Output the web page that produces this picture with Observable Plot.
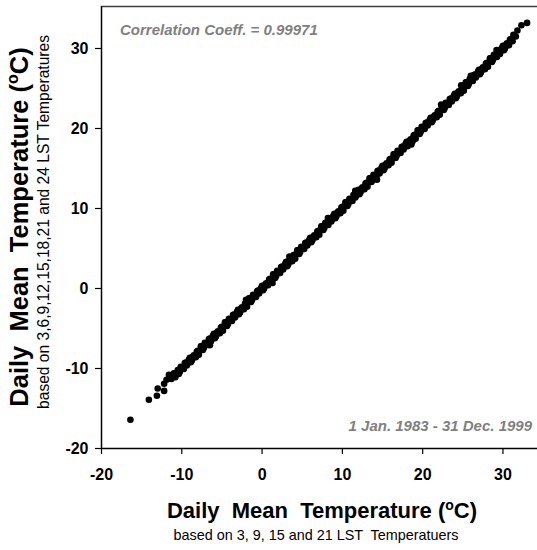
<!DOCTYPE html>
<html><head><meta charset="utf-8">
<script src="https://cdn.jsdelivr.net/npm/d3@7"></script>
<script src="https://cdn.jsdelivr.net/npm/@observablehq/plot@0.6"></script>
<style>
body{margin:0;background:#fff;}
#chart{width:537px;height:550px;}
</style>
</head><body><div id="chart"></div>
<script>
// Daily mean based on 3, 9, 15, 21 LST (x)
const mean4 = [
-16.4,-14.1,-13.1,-13.0,-12.2,-12.2,-11.6,-11.9,-11.3,-11.0,-10.8,
-10.5,-10.25,-10.0,-9.75,-9.5,-9.25,-9.0,-8.75,-8.5,-8.25,-8.0,-7.75,
-7.5,-7.25,-7.0,-6.75,-6.5,-6.25,-6.0,-5.75,-5.5,-5.25,-5.0,-4.75,
-4.5,-4.25,-4.0,-3.75,-3.5,-3.25,-3.0,-2.75,-2.5,-2.25,-2.0,-1.75,
-1.5,-1.25,-1.0,-0.75,-0.5,-0.25,0.0,0.25,0.5,0.75,1.0,1.25,
1.5,1.75,2.0,2.25,2.5,2.75,3.0,3.25,3.5,3.75,4.0,4.25,
4.5,4.75,5.0,5.25,5.5,5.75,6.0,6.25,6.5,6.75,7.0,7.25,
7.5,7.75,8.0,8.25,8.5,8.75,9.0,9.25,9.5,9.75,10.0,10.25,
10.5,10.75,11.0,11.25,11.5,11.75,12.0,12.25,12.5,12.75,13.0,13.25,
13.5,13.75,14.0,14.25,14.5,14.75,15.0,15.25,15.5,15.75,16.0,16.25,
16.5,16.75,17.0,17.25,17.5,17.75,18.0,18.25,18.5,18.75,19.0,19.25,
19.5,19.75,20.0,20.25,20.5,20.75,21.0,21.25,21.5,21.75,22.0,22.25,
22.5,22.75,23.0,23.25,23.5,23.75,24.0,24.25,24.5,24.75,25.0,25.25,
25.5,25.75,26.0,26.25,26.5,26.75,27.0,27.25,27.5,27.75,28.0,28.25,
28.5,28.75,29.0,29.25,29.5,29.75,30.0,30.25,30.5,30.75,31.0,
-2.0,3.4,8.2,14.3,22.3,26.0,-6.5,11.6,18.6,24.8,29.2,1.3,
31.3,31.6,31.8,32.3,33.0,31.2
];
// Daily mean based on 3, 6, 9, 12, 15, 18, 21, 24 LST (y)
const mean8 = [
-16.4,-13.9,-13.4,-12.5,-12.8,-11.9,-10.8,-11.4,-11.3,-10.6,-11.1,
-10.2,-10.45,-9.9,-10.05,-9.25,-9.3,-8.65,-9.0,-8.35,-8.6,-7.8,-7.75,
-7.2,-7.45,-6.9,-7.05,-6.25,-6.3,-5.65,-6.0,-5.35,-5.6,-4.8,-4.75,
-4.2,-4.45,-3.9,-4.05,-3.25,-3.3,-2.65,-3.0,-2.35,-2.6,-1.8,-1.75,
-1.2,-1.45,-0.9,-1.05,-0.25,-0.3,0.35,0.0,0.65,0.4,1.2,1.25,
1.8,1.55,2.1,1.95,2.75,2.7,3.35,3.0,3.65,3.4,4.2,4.25,
4.8,4.55,5.1,4.95,5.75,5.7,6.35,6.0,6.65,6.4,7.2,7.25,
7.8,7.55,8.1,7.95,8.75,8.7,9.35,9.0,9.65,9.4,10.2,10.25,
10.8,10.55,11.1,10.95,11.75,11.7,12.35,12.0,12.65,12.4,13.2,13.25,
13.8,13.55,14.1,13.95,14.75,14.7,15.35,15.0,15.65,15.4,16.2,16.25,
16.8,16.55,17.1,16.95,17.75,17.7,18.35,18.0,18.65,18.4,19.2,19.25,
19.8,19.55,20.1,19.95,20.75,20.7,21.35,21.0,21.65,21.4,22.2,22.25,
22.8,22.55,23.1,22.95,23.75,23.7,24.35,24.0,24.65,24.4,25.2,25.25,
25.8,25.55,26.1,25.95,26.75,26.7,27.35,27.0,27.65,27.4,28.2,28.25,
28.8,28.55,29.1,28.95,29.75,29.7,30.35,30.0,30.65,30.4,31.2,
-1.4,4.0,8.8,13.6,23.0,26.6,-7.1,12.2,18.0,25.4,29.8,0.7,
31.7,31.5,32.25,32.9,33.2,30.9
];
// further days (x)
const mean4More = [
-10.375,-10.125,-9.875,-9.625,-9.375,-9.125,-8.875,-8.625,-8.375,-8.125,-7.875,-7.625,
-7.375,-7.125,-6.875,-6.625,-6.375,-6.125,-5.875,-5.625,-5.375,-5.125,-4.875,-4.625,
-4.375,-4.125,-3.875,-3.625,-3.375,-3.125,-2.875,-2.625,-2.375,-2.125,-1.875,-1.625,
-1.375,-1.125,-0.875,-0.625,-0.375,-0.125,0.125,0.375,0.625,0.875,1.125,1.375,
1.625,1.875,2.125,2.375,2.625,2.875,3.125,3.375,3.625,3.875,4.125,4.375,
4.625,4.875,5.125,5.375,5.625,5.875,6.125,6.375,6.625,6.875,7.125,7.375,
7.625,7.875,8.125,8.375,8.625,8.875,9.125,9.375,9.625,9.875,10.125,10.375,
10.625,10.875,11.125,11.375,11.625,11.875,12.125,12.375,12.625,12.875,13.125,13.375,
13.625,13.875,14.125,14.375,14.625,14.875,15.125,15.375,15.625,15.875,16.125,16.375,
16.625,16.875,17.125,17.375,17.625,17.875,18.125,18.375,18.625,18.875,19.125,19.375,
19.625,19.875,20.125,20.375,20.625,20.875,21.125,21.375,21.625,21.875,22.125,22.375,
22.625,22.875,23.125,23.375,23.625,23.875,24.125,24.375,24.625,24.875,25.125,25.375,
25.625,25.875,26.125,26.375,26.625,26.875,27.125,27.375,27.625,27.875,28.125,28.375,
28.625,28.875,29.125,29.375,29.625,29.875,30.125,30.375,30.625,30.875
];
// further days (y)
const mean8More = [
-10.675,-9.775,-9.975,-9.325,-9.625,-8.925,-9.225,-8.525,-8.575,-7.875,-8.275,-7.225,
-7.675,-6.775,-6.975,-6.325,-6.625,-5.925,-6.225,-5.525,-5.575,-4.875,-5.275,-4.225,
-4.675,-3.775,-3.975,-3.325,-3.625,-2.925,-3.225,-2.525,-2.575,-1.875,-2.275,-1.225,
-1.675,-0.775,-0.975,-0.325,-0.625,0.075,-0.225,0.475,0.425,1.125,0.725,1.775,
1.325,2.225,2.025,2.675,2.375,3.075,2.775,3.475,3.425,4.125,3.725,4.775,
4.325,5.225,5.025,5.675,5.375,6.075,5.775,6.475,6.425,7.125,6.725,7.775,
7.325,8.225,8.025,8.675,8.375,9.075,8.775,9.475,9.425,10.125,9.725,10.775,
10.325,11.225,11.025,11.675,11.375,12.075,11.775,12.475,12.425,13.125,12.725,13.775,
13.325,14.225,14.025,14.675,14.375,15.075,14.775,15.475,15.425,16.125,15.725,16.775,
16.325,17.225,17.025,17.675,17.375,18.075,17.775,18.475,18.425,19.125,18.725,19.775,
19.325,20.225,20.025,20.675,20.375,21.075,20.775,21.475,21.425,22.125,21.725,22.775,
22.325,23.225,23.025,23.675,23.375,24.075,23.775,24.475,24.425,25.125,24.725,25.775,
25.325,26.225,26.025,26.675,26.375,27.075,26.775,27.475,27.425,28.125,27.725,28.775,
28.325,29.225,29.025,29.675,29.325,30.075,29.775,30.475,30.425,31.125
];
const xTicks = [-20, -10, 0, 10, 20, 30];
const yTicks = [-20, -10, 0, 10, 20, 30];
const xDomain = [-20, 34.3];
const yDomain = [-20, 35.25];
const corrText = "Correlation Coeff. = 0.99971";
const periodText = "1 Jan. 1983 - 31 Dec. 1999";
const titleMain = "Daily  Mean  Temperature (";
const xSub = "based on 3, 9, 15 and 21 LST  Temperatuers";
const ySub = "based on 3,6,9,12,15,18,21 and 24 LST Temperatures";

const xs = mean4.concat(mean4More);
const ys = mean8.concat(mean8More);
const data = xs.map((x, i) => ({x, y: ys[i]}));
const FONT = "'Liberation Sans', Arial, Helvetica, sans-serif";

const chart = Plot.plot({
  width: 537, height: 550,
  marginLeft: 101, marginTop: 6, marginRight: 0, marginBottom: 102,
  style: {fontFamily: FONT, background: "#fff", color: "#000"},
  x: {domain: xDomain},
  y: {domain: yDomain},
  marks: [
    Plot.ruleY([yDomain[1]], {stroke: "#404040", strokeWidth: 1.5}),
    Plot.dot(data, {x: "x", y: "y", r: 3.3, fill: "#000", stroke: "none"}),
    Plot.axisX(xTicks, {tickSize: 6, tickPadding: 14, fontSize: 16, fontWeight: "bold", tickFormat: d => String(d), label: null, strokeWidth: 1.2}),
    Plot.axisY(yTicks, {tickSize: 6, tickPadding: 7, fontSize: 16, fontWeight: "bold", tickFormat: d => String(d), label: null, strokeWidth: 1.2}),
    Plot.ruleX([xDomain[0]], {stroke: "#000", strokeWidth: 1.5}),
    Plot.ruleY([yDomain[0]], {stroke: "#000", strokeWidth: 1.5})
  ]
});
document.getElementById("chart").appendChild(chart);

const svg = d3.select(chart);
function addTitle(sel, main, size, sup) {
  sel.append("tspan").text(main);
  sel.append("tspan").attr("font-size", sup).attr("dy", -size * 0.38).text("o");
  sel.append("tspan").attr("dy", size * 0.38).text("C)");
}
// annotations
svg.append("text").attr("x", 120).attr("y", 35).attr("text-anchor", "start")
  .attr("font-family", FONT).attr("font-size", 15).attr("font-weight", "bold").attr("font-style", "italic")
  .attr("fill", "#808080").text(corrText);
svg.append("text").attr("x", 532).attr("y", 431).attr("text-anchor", "end")
  .attr("font-family", FONT).attr("font-size", 15).attr("font-weight", "bold").attr("font-style", "italic")
  .attr("fill", "#808080").text(periodText);
// x titles
const xt = svg.append("text").attr("x", 322).attr("y", 518).attr("text-anchor", "middle")
  .attr("font-family", FONT).attr("font-size", 22).attr("font-weight", "bold").attr("fill", "#000");
addTitle(xt, titleMain, 22, 14);
svg.append("text").attr("x", 316).attr("y", 540).attr("text-anchor", "middle")
  .attr("font-family", FONT).attr("font-size", 14.4).attr("fill", "#000").text(xSub);
// y titles
const yt = svg.append("text").attr("transform", "translate(28,227) rotate(-90)").attr("text-anchor", "middle")
  .attr("font-family", FONT).attr("font-size", 25.5).attr("font-weight", "bold").attr("fill", "#000");
addTitle(yt, titleMain, 25.5, 16);
svg.append("text").attr("transform", "translate(49,222) rotate(-90)").attr("text-anchor", "middle")
  .attr("font-family", FONT).attr("font-size", 15.6).attr("fill", "#000").text(ySub);
</script>
</body></html>
